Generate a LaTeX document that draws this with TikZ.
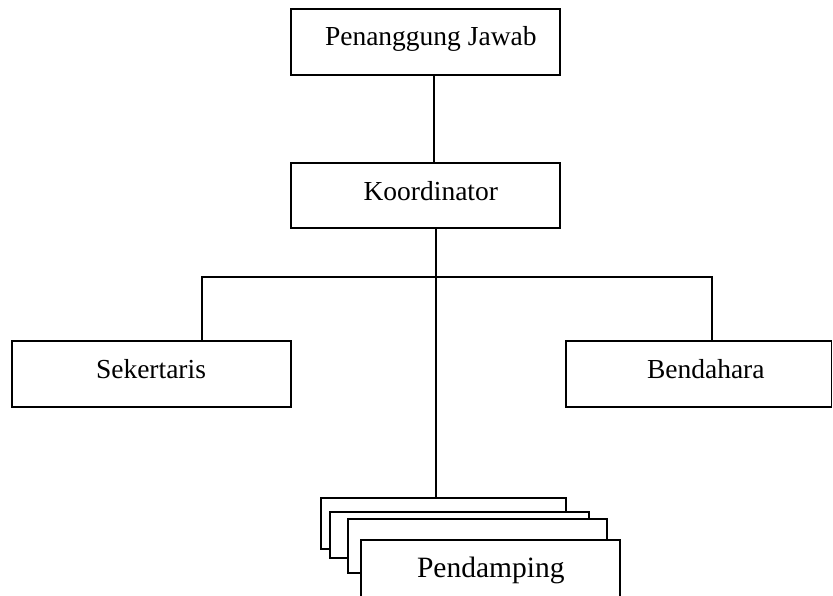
\documentclass[tikz,border=0pt]{standalone}
\usepackage{fontspec}
\setmainfont{Liberation Serif}
\begin{document}
\begin{tikzpicture}[x=1pt,y=-1pt,
  box/.style={draw=black, fill=white, line width=1.3pt, inner sep=0pt},
  txt/.style={inner sep=0pt, anchor=base, font=\fontsize{27.5}{30}\selectfont},
  bigtxt/.style={inner sep=0pt, anchor=base, font=\fontsize{29.5}{32}\selectfont},
  conn/.style={draw=black, line width=1.3pt}]
\useasboundingbox (0,0) rectangle (833,596);
\clip (0,0) rectangle (833,596);
% boxes
\node[box, minimum width=269pt, minimum height=66pt] (pj) at (425.5,42) {};
\node[box, minimum width=269pt, minimum height=65pt] (kor) at (425.5,195.5) {};
\node[box, minimum width=279pt, minimum height=66pt] (sek) at (151.5,374) {};
\node[box, minimum width=265.5pt, minimum height=66pt] (ben) at (698.75,374) {};
% stacked Pendamping boxes
\node[box, minimum width=245pt, minimum height=51pt] (p1) at (443.5,523.5) {};
\node[box, minimum width=259pt, minimum height=46pt] (p2) at (459.5,535) {};
\node[box, minimum width=259pt, minimum height=54pt] (p3) at (477.5,546) {};
\node[box, minimum width=259pt, minimum height=80pt] (p4) at (490.5,580) {};
% texts
\node[txt] (pjt) at (430.8,46) {Penanggung Jawab};
\node[txt] (kort) at (430.8,201) {Koordinator};
\node[txt] (sekt) at (151,378) {Sekertaris};
\node[txt] (bent) at (705.8,378) {Bendahara};
\node[bigtxt] (p4t) at (490.8,577) {Pendamping};
% connectors
\coordinate (pjb) at (434,75);
\draw[conn] (pjb) -- (pjb |- kor.north);
\coordinate (kd) at (436,228);
\draw[conn] (kd) -- (kd |- p1.north);
\coordinate (hl) at (202,277);
\coordinate (hr) at (712,277);
\draw[conn] (hl |- sek.north) -- (hl) -- (hr) -- (hr |- ben.north);
\end{tikzpicture}
\end{document}
